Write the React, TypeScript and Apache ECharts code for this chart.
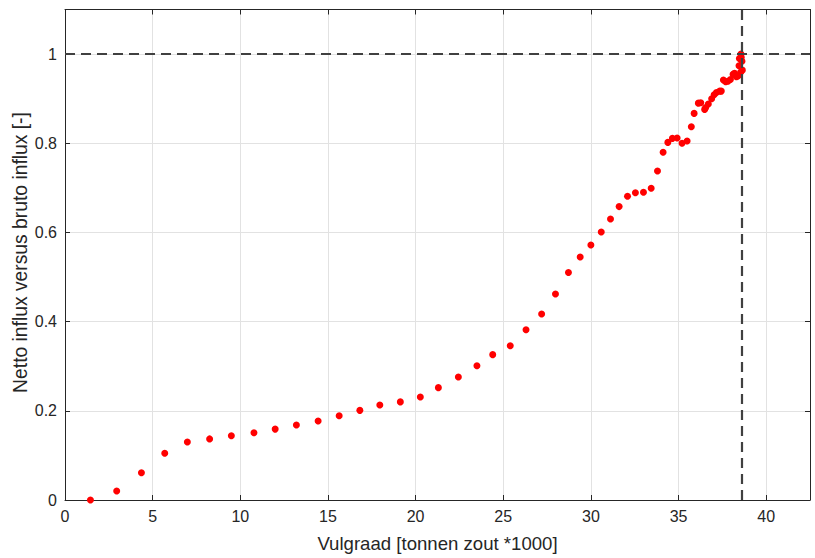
import React, { useEffect, useRef } from "react";
import * as echarts from "echarts";

const xValues: number[] = [
  1.45, 2.95, 4.36, 5.69, 6.98, 8.25, 9.49, 10.78, 11.99, 13.2, 14.44, 15.64, 16.82, 17.96,
  19.13, 20.27, 21.3, 22.44, 23.5, 24.4, 25.4, 26.3, 27.19, 27.98, 28.72, 29.39, 30.0, 30.59,
  31.12, 31.61, 32.09, 32.54, 33.0, 33.44, 33.8, 34.12, 34.39, 34.65, 34.92, 35.2, 35.49,
  35.73, 35.89, 36.13, 36.27, 36.49, 36.55, 36.7, 36.89, 37.03, 37.16, 37.35, 37.44, 37.56,
  37.69, 37.82, 37.96, 38.11, 38.2, 38.3, 38.39, 38.45, 38.55, 38.47, 38.56, 38.58, 38.62,
  38.64,
];
const yValues: number[] = [
  0, 0.02, 0.061, 0.105, 0.13, 0.137, 0.144, 0.151, 0.159, 0.168, 0.177, 0.189, 0.201, 0.213,
  0.22, 0.231, 0.252, 0.276, 0.301, 0.326, 0.346, 0.382, 0.417, 0.462, 0.51, 0.545, 0.572,
  0.601, 0.63, 0.658, 0.681, 0.689, 0.69, 0.699, 0.738, 0.78, 0.802, 0.811, 0.812, 0.8, 0.805,
  0.837, 0.867, 0.89, 0.891, 0.876, 0.88, 0.888, 0.9, 0.909, 0.914, 0.917, 0.917, 0.942,
  0.938, 0.939, 0.943, 0.955, 0.957, 0.949, 0.951, 0.974, 0.96, 0.99, 1.0, 0.993, 0.984,
  0.964,
];
const refX = 38.6;
const refY = 1;
const xTitle = "Vulgraad [tonnen zout *1000]";
const yTitle = "Netto influx versus bruto influx [-]";

const FONT = "'Liberation Sans', Arial, Helvetica, sans-serif";
const AXIS_COLOR = "#262626";
const GRID_COLOR = "#e2e2e2";

export default function App() {
  const ref = useRef<HTMLDivElement>(null);
  useEffect(() => {
    if (!ref.current) return;
    const chart = echarts.init(ref.current, null, { renderer: "svg" });
    const points = xValues.map((x, i) => [x, yValues[i]]);
    const baseX = { type: "value" as const, min: 0, max: 42.5, interval: 5 };
    const baseY = { type: "value" as const, min: 0, max: 1.1, interval: 0.2 };
    const line = { show: true, onZero: false, lineStyle: { color: AXIS_COLOR, width: 1 } };
    const tick = { show: true, inside: true, length: 5, lineStyle: { color: AXIS_COLOR } };
    chart.setOption({
      animation: false,
      backgroundColor: "#ffffff",
      textStyle: { fontFamily: FONT },
      grid: { left: 65, right: 5, top: 9.5, bottom: 58, containLabel: false },
      xAxis: [
        {
          ...baseX,
          position: "bottom",
          axisLine: line,
          axisTick: tick,
          axisLabel: {
            show: true,
            color: AXIS_COLOR,
            fontSize: 16,
            fontFamily: FONT,
            margin: 8,
            showMaxLabel: false,
          },
          splitLine: { show: true, lineStyle: { color: GRID_COLOR, width: 1 } },
        },
        {
          ...baseX,
          position: "top",
          axisLine: line,
          axisTick: tick,
          axisLabel: { show: false },
          splitLine: { show: false },
        },
      ],
      yAxis: [
        {
          ...baseY,
          position: "left",
          axisLine: line,
          axisTick: tick,
          axisLabel: {
            show: true,
            color: AXIS_COLOR,
            fontSize: 16,
            fontFamily: FONT,
            margin: 8,
            showMaxLabel: false,
            formatter: (v: number) => String(+v.toFixed(1)),
          },
          splitLine: { show: true, lineStyle: { color: GRID_COLOR, width: 1 } },
        },
        {
          ...baseY,
          position: "right",
          axisLine: line,
          axisTick: tick,
          axisLabel: { show: false },
          splitLine: { show: false },
        },
      ],
      graphic: [
        {
          type: "text",
          x: 437.5,
          y: 543,
          style: {
            text: xTitle,
            fill: AXIS_COLOR,
            font: `18.6px ${FONT}`,
            textAlign: "center",
            textVerticalAlign: "middle",
          },
        },
        {
          type: "text",
          x: 20,
          y: 252.5,
          rotation: Math.PI / 2,
          style: {
            text: yTitle,
            fill: AXIS_COLOR,
            font: `19.3px ${FONT}`,
            textAlign: "center",
            textVerticalAlign: "middle",
          },
        },
      ],
      series: [
        {
          type: "scatter",
          xAxisIndex: 0,
          yAxisIndex: 0,
          data: points,
          symbol: "circle",
          symbolSize: 7,
          itemStyle: { color: "#ff0000", opacity: 1 },
          z: 3,
          markLine: {
            silent: true,
            symbol: ["none", "none"],
            label: { show: false },
            lineStyle: { color: "#404040", width: 2.2, type: [10, 6], opacity: 1 },
            data: [{ xAxis: refX }, { yAxis: refY }],
          },
        },
      ],
    });
    return () => chart.dispose();
  }, []);
  return (
    <div
      ref={ref}
      style={{ position: "absolute", left: 0, top: 0, width: 815, height: 558 }}
    />
  );
}
